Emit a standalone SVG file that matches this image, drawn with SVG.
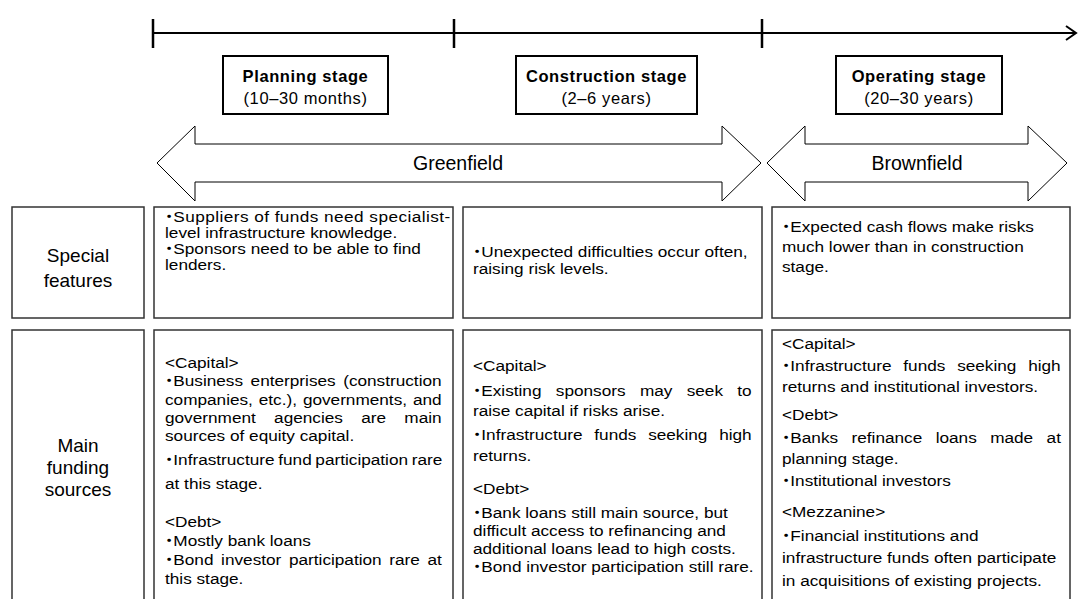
<svg xmlns="http://www.w3.org/2000/svg" width="1078" height="599" viewBox="0 0 1078 599">
<style>
.bg{fill:#fff}
.tl{stroke:#000;stroke-width:2;fill:none}
.tick{stroke:#000;stroke-width:2.5;fill:none}
.stage{fill:#fff;stroke:#000;stroke-width:2}
.arrow{fill:#fff;stroke:#000;stroke-width:1}
.cell{fill:#fff;stroke:#333;stroke-width:1.5}
.tt{font-family:"Liberation Sans",Arial,"Noto Sans CJK JP",sans-serif;font-size:16.5px;font-weight:bold;letter-spacing:0.6px;fill:#000;text-anchor:middle}
.ts{font-family:"Liberation Sans",Arial,"Noto Sans CJK JP",sans-serif;font-size:16.5px;letter-spacing:0.6px;fill:#000;text-anchor:middle}
.big{font-family:"Liberation Sans",Arial,"Noto Sans CJK JP",sans-serif;font-size:19.5px;fill:#000;text-anchor:middle}
.lab{font-family:"Liberation Sans",Arial,"Noto Sans CJK JP",sans-serif;font-size:19px;fill:#000;text-anchor:middle}
.t{font-family:"Liberation Sans",Arial,"Noto Sans CJK JP",sans-serif;font-size:15.5px;fill:#000}
.b{letter-spacing:-4px;word-spacing:0}
</style>
<rect class="bg" x="0" y="0" width="1078" height="599"/>
<g id="connectors">
  <path class="tl" d="M153,33 H1075"/>
  <path class="tl" d="M1066,26 L1076,33 L1066,40"/>
  <path class="tick" d="M153,19 V48 M454,19 V48 M762,19 V48"/>
</g>
<g id="stage-planning">
  <rect class="stage" x="223" y="56" width="165" height="58"/>
  <text class="tt" x="305.5" y="82">Planning stage</text>
  <text class="ts" x="305.5" y="104">(10–30 months)</text>
</g>
<g id="stage-construction">
  <rect class="stage" x="516" y="56" width="181" height="58"/>
  <text class="tt" x="606.5" y="82">Construction stage</text>
  <text class="ts" x="606.5" y="104">(2–6 years)</text>
</g>
<g id="stage-operating">
  <rect class="stage" x="836" y="56" width="166" height="58"/>
  <text class="tt" x="919" y="82">Operating stage</text>
  <text class="ts" x="919" y="104">(20–30 years)</text>
</g>
<g id="greenfield">
  <path class="arrow" d="M157,163 L195,126 L195,144 L722,144 L722,126 L761,163 L722,201 L722,182 L195,182 L195,201 Z"/>
  <text class="big" x="458" y="170">Greenfield</text>
</g>
<g id="brownfield">
  <path class="arrow" d="M767,163 L805,126 L805,144 L1028,144 L1028,126 L1067,163 L1028,201 L1028,182 L805,182 L805,201 Z"/>
  <text class="big" x="917" y="170">Brownfield</text>
</g>
<g id="label-features">
  <rect class="cell" x="12" y="207" width="132" height="111"/>
  <text class="lab" x="78" y="262">Special</text>
  <text class="lab" x="78" y="287">features</text>
</g>
<g id="features-planning">
  <rect class="cell" x="154" y="207" width="299" height="111"/>
  <g transform="translate(165 0) scale(1.11 1)">
    <text class="t">
      <tspan x="-4" y="222" letter-spacing="0.4"><tspan class="b">・</tspan>Suppliers of funds need specialist-</tspan>
      <tspan x="0" y="238">level infrastructure knowledge.</tspan>
      <tspan x="-4" y="254"><tspan class="b">・</tspan>Sponsors need to be able to find</tspan>
      <tspan x="0" y="270">lenders.</tspan>
    </text>
  </g>
</g>
<g id="features-construction">
  <rect class="cell" x="463" y="207" width="299" height="111"/>
  <g transform="translate(473 0) scale(1.11 1)">
    <text class="t">
      <tspan x="-4" y="257"><tspan class="b">・</tspan>Unexpected difficulties occur often,</tspan>
      <tspan x="0" y="274">raising risk levels.</tspan>
    </text>
  </g>
</g>
<g id="features-operating">
  <rect class="cell" x="772" y="207" width="298" height="111"/>
  <g transform="translate(782 0) scale(1.11 1)">
    <text class="t">
      <tspan x="-4" y="232"><tspan class="b">・</tspan>Expected cash flows make risks</tspan>
      <tspan x="0" y="252">much lower than in construction</tspan>
      <tspan x="0" y="272">stage.</tspan>
    </text>
  </g>
</g>
<g id="label-funding">
  <rect class="cell" x="12" y="330" width="132" height="290"/>
  <text class="lab" x="78" y="452">Main</text>
  <text class="lab" x="78" y="474">funding</text>
  <text class="lab" x="78" y="496">sources</text>
</g>
<g id="funding-planning">
  <rect class="cell" x="154" y="330" width="299" height="290"/>
  <g transform="translate(165 0) scale(1.11 1)">
    <text class="t">
      <tspan x="0" y="368">&lt;Capital&gt;</tspan>
      <tspan x="-4" y="386" word-spacing="2.5"><tspan class="b">・</tspan>Business enterprises (construction</tspan>
      <tspan x="0" y="405" word-spacing="1">companies, etc.), governments, and</tspan>
      <tspan x="0" y="423" word-spacing="12.2">government agencies are main</tspan>
      <tspan x="0" y="441">sources of equity capital.</tspan>
      <tspan x="-4" y="465" word-spacing="-1"><tspan class="b">・</tspan>Infrastructure fund participation rare</tspan>
      <tspan x="0" y="489">at this stage.</tspan>
      <tspan x="0" y="527">&lt;Debt&gt;</tspan>
      <tspan x="-4" y="546"><tspan class="b">・</tspan>Mostly bank loans</tspan>
      <tspan x="-4" y="565" word-spacing="2.6"><tspan class="b">・</tspan>Bond investor participation rare at</tspan>
      <tspan x="0" y="584">this stage.</tspan>
    </text>
  </g>
</g>
<g id="funding-construction">
  <rect class="cell" x="463" y="330" width="299" height="290"/>
  <g transform="translate(473 0) scale(1.11 1)">
    <text class="t">
      <tspan x="0" y="371">&lt;Capital&gt;</tspan>
      <tspan x="-4" y="396" word-spacing="8.6"><tspan class="b">・</tspan>Existing sponsors may seek to</tspan>
      <tspan x="0" y="416">raise capital if risks arise.</tspan>
      <tspan x="-4" y="440" word-spacing="6.3"><tspan class="b">・</tspan>Infrastructure funds seeking high</tspan>
      <tspan x="0" y="461">returns.</tspan>
      <tspan x="0" y="494">&lt;Debt&gt;</tspan>
      <tspan x="-4" y="518"><tspan class="b">・</tspan>Bank loans still main source, but</tspan>
      <tspan x="0" y="536">difficult access to refinancing and</tspan>
      <tspan x="0" y="554">additional loans lead to high costs.</tspan>
      <tspan x="-4" y="572"><tspan class="b">・</tspan>Bond investor participation still rare.</tspan>
    </text>
  </g>
</g>
<g id="funding-operating">
  <rect class="cell" x="772" y="330" width="298" height="290"/>
  <g transform="translate(782 0) scale(1.11 1)">
    <text class="t">
      <tspan x="0" y="349">&lt;Capital&gt;</tspan>
      <tspan x="-4" y="371" word-spacing="6.3"><tspan class="b">・</tspan>Infrastructure funds seeking high</tspan>
      <tspan x="0" y="392">returns and institutional investors.</tspan>
      <tspan x="0" y="420">&lt;Debt&gt;</tspan>
      <tspan x="-4" y="443" word-spacing="7.8"><tspan class="b">・</tspan>Banks refinance loans made at</tspan>
      <tspan x="0" y="464">planning stage.</tspan>
      <tspan x="-4" y="486"><tspan class="b">・</tspan>Institutional investors</tspan>
      <tspan x="0" y="517">&lt;Mezzanine&gt;</tspan>
      <tspan x="-4" y="541"><tspan class="b">・</tspan>Financial institutions and</tspan>
      <tspan x="0" y="563">infrastructure funds often participate</tspan>
      <tspan x="0" y="586">in acquisitions of existing projects.</tspan>
    </text>
  </g>
</g>
</svg>
